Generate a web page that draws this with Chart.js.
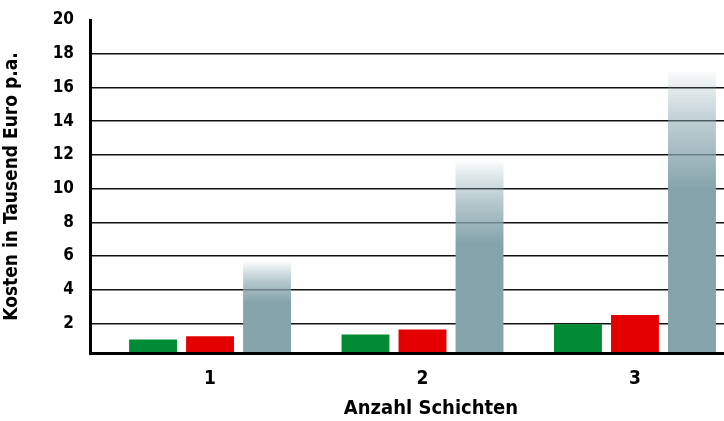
<!DOCTYPE html>
<html>
<head>
<meta charset="utf-8">
<script src="https://cdn.jsdelivr.net/npm/chart.js@4"></script>
<style>
  html, body { margin:0; padding:0; background:#fff; overflow:hidden; }
  /* plot runs past the right edge, like the reference */
  #wrap { width:772px; height:421px; }
</style>
</head>
<body>
<div id="wrap"><canvas id="c"></canvas></div>
<script>
// Data
const categories = ['1', '2', '3'];
const greenValues = [1.05, 1.35, 1.95];
const redValues = [1.25, 1.65, 2.5];
const grayValues = [5.65, 11.6, 16.95];
const yTicks = [2, 4, 6, 8, 10, 12, 14, 16, 18, 20];

const FONT = "'Liberation Sans Narrow', 'Arial Narrow', 'DejaVu Sans Condensed', sans-serif";
const pts = (arr) => arr.map((v, i) => ({ x: Number(categories[i]), y: v }));

// gray bars fade out towards the top
function grayFill(ctx){
  const chart = ctx.chart;
  if(!chart.chartArea || !ctx.parsed) return '#84a3ab';
  const ys = chart.scales.y;
  const top = ys.getPixelForValue(ctx.parsed.y);
  const bottom = ys.getPixelForValue(0);
  const g = chart.ctx.createLinearGradient(0, top, 0, bottom);
  g.addColorStop(0, 'rgba(132,163,171,0.04)');
  g.addColorStop(0.08, 'rgba(132,163,171,0.28)');
  g.addColorStop(0.2, 'rgba(132,163,171,0.58)');
  g.addColorStop(0.42, 'rgba(132,163,171,1)');
  g.addColorStop(1, 'rgba(132,163,171,1)');
  return g;
}

new Chart(document.getElementById('c'), {
  type: 'bar',
  data: {
    datasets: [
      { data: pts(greenValues), backgroundColor: '#008c35' },
      { data: pts(redValues), backgroundColor: '#e50000' },
      { data: pts(grayValues), backgroundColor: grayFill },
    ]
  },
  options: {
    responsive: true,
    maintainAspectRatio: false,
    animation: false,
    categoryPercentage: 0.805,
    barPercentage: 0.84,
    layout: { padding: 0 },
    plugins: { legend: { display: false }, tooltip: { enabled: false } },
    scales: {
      x: {
        type: 'linear',
        offset: false,
        min: 0.435,
        max: 3.645,
        afterBuildTicks: (s) => { s.ticks = categories.map(c => ({ value: Number(c) })); },
        afterFit: (s) => { s.height = 68; s.paddingLeft = 0; s.paddingRight = 0; },
        grid: { display: false, drawTicks: false, offset: false },
        border: { display: true, color: '#000', width: 3, z: 2 },
        ticks: {
          padding: 15,
          color: '#000',
          font: { family: FONT, size: 19, weight: 'bold' },
          callback: (v) => categories.find(c => Number(c) === v) || ''
        },
        title: {
          display: true,
          text: 'Anzahl Schichten',
          color: '#000',
          font: { family: FONT, size: 20, weight: 'bold' },
          padding: { top: 9, bottom: 0 }
        }
      },
      y: {
        min: 0.25,
        max: 20,
        z: 1,
        afterBuildTicks: (s) => { s.ticks = yTicks.map(v => ({ value: v })); },
        afterFit: (s) => { s.width = 90; s.paddingTop = 20; s.paddingBottom = 0; },
        grid: {
          drawTicks: false,
          color: (c) => (c.tick && c.tick.value === 20) ? 'rgba(0,0,0,0)' : '#111',
          lineWidth: 1.5
        },
        border: { display: true, color: '#000', width: 3 },
        ticks: {
          padding: 16,
          color: '#000',
          font: { family: FONT, size: 17, weight: 'bold' }
        },
        title: {
          display: true,
          text: 'Kosten in Tausend Euro p.a.',
          color: '#000',
          font: { family: FONT, size: 19, weight: 'bold' },
          padding: { top: 1, bottom: 0 }
        }
      }
    }
  }
});
</script>
</body>
</html>
